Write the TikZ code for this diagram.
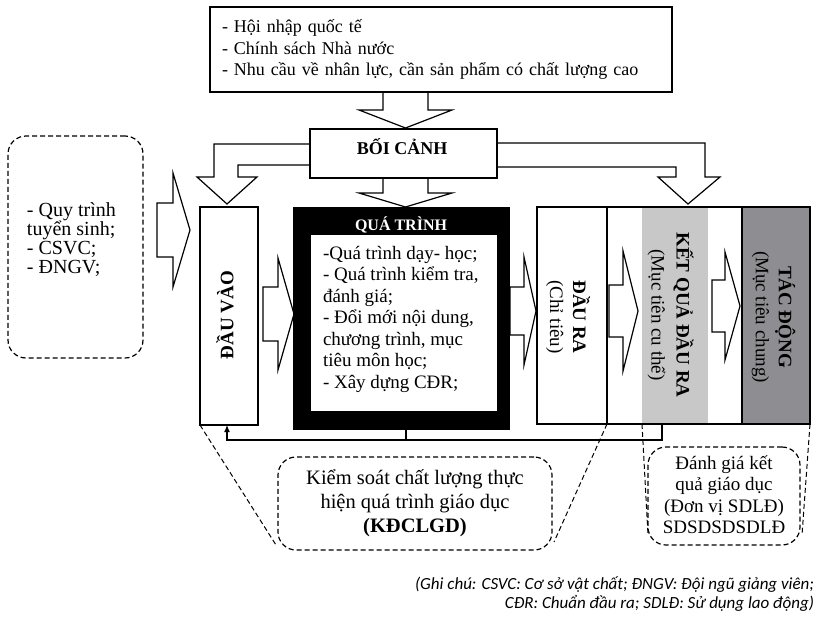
\documentclass[tikz,border=0pt]{standalone}
\usepackage{fontspec}
\setmainfont{Liberation Serif}
\newfontfamily\notefont{Carlito}
\usetikzlibrary{arrows.meta,positioning,calc}
\definecolor{lightgrey}{RGB}{200,200,200}
\definecolor{darkgrey}{RGB}{142,142,146}
\tikzset{%
	plainbox/.style = {
		rectangle, draw=black, line width=1.2pt
	},
	dashbox/.style = {
		rectangle, draw=black, line width=1.2pt,
		rounded corners=18pt, dash pattern=on 5pt off 3pt
	},
	fatarrow/.style = {
		draw=black, fill=white, line width=1.2pt, line join=miter
	},
	dashline/.style = {
		draw=black, line width=1pt, dash pattern=on 5pt off 3pt
	},
	notetext/.style = {
		anchor=base east, font=\notefont\itshape\fontsize{17}{20}\selectfont
	}
}
% hollow block arrows: start x, centre y, shaft length, shaft half width, head length, head half width
\newcommand{\fatright}[6]{%
	\draw[fatarrow] (#1,#2-#4) -- (#1+#3,#2-#4) -- (#1+#3,#2-#6) -- (#1+#3+#5,#2)
		-- (#1+#3,#2+#6) -- (#1+#3,#2+#4) -- (#1,#2+#4) -- cycle;}
\newcommand{\fatdown}[6]{%
	\draw[fatarrow] (#1-#4,#2) -- (#1-#4,#2+#3) -- (#1-#6,#2+#3) -- (#1,#2+#3+#5)
		-- (#1+#6,#2+#3) -- (#1+#4,#2+#3) -- (#1+#4,#2) -- cycle;}

\begin{document}
\begin{tikzpicture}[x=1pt, y=-1pt, every node/.style={inner sep=0pt, outer sep=0pt}]
    \useasboundingbox (0,0) rectangle (816,618);

    % Block arrows (drawn first, boxes go over them)
    \fatdown{405.5}{92}{18}{22.5}{18}{46.5}
    \fatdown{405.5}{178}{15}{22.5}{14}{46.5}
    \draw[fatarrow] (310,144) -- (214,144) -- (214,177) -- (197,177) -- (227,204) -- (257,177) -- (238,177) -- (238,165) -- (310,165);
    \draw[fatarrow] (497,143) -- (705,143) -- (705,177) -- (720,177) -- (688,204) -- (658,177) -- (676,177) -- (676,167) -- (497,167);
    \fatright{157}{230}{16}{27}{17}{57}
    \fatright{263}{314}{15}{27}{16}{56}
    \fatright{510}{311}{14}{24}{12}{54}

    % Specification of nodes (position, etc.)
    \node (context)    [plainbox, minimum width=462pt, minimum height=85pt, text width=438pt, align=left,
                        font=\fontsize{18}{21.5}\selectfont] at (441,49.5)
                       {- Hội nhập quốc tế\\- Chính sách Nhà nước\\- Nhu cầu về nhân lực, cần sản phẩm có chất lượng cao};
    \node (boicanh)    [plainbox, fill=white, minimum width=187pt, minimum height=49pt] at (403.5,153.5) {};
    \node (boicanhtxt) [font=\bfseries\fontsize{18}{20}\selectfont] at (402,147) {BỐI CẢNH};

    \node (inputs)     [dashbox, minimum width=135pt, minimum height=222pt] at (75.5,247) {};
    \node (inputstxt)  [anchor=west, align=left, font=\fontsize{20}{19}\selectfont] at (27,240)
                       {- Quy trình\\tuyển sinh;\\- CSVC;\\- ĐNGV;};

    \node (dauvao)     [plainbox, minimum width=58pt, minimum height=218pt] at (229,316) {};
    \node (dauvaotxt)  [rotate=90, font=\bfseries\fontsize{19}{21}\selectfont] at (225,315) {ĐẦU VÀO};

    \node (quatrinh)   [rectangle, fill=black, minimum width=217pt, minimum height=223pt] at (401.5,318.5) {};
    \node (qtinner)    [rectangle, fill=white, minimum width=186pt, minimum height=176pt] at (404,323) {};
    \node (qttitle)    [text=white, font=\bfseries\fontsize{16}{18}\selectfont] at (401,225) {QUÁ TRÌNH};
    \node (qttext)     [anchor=west, align=left, font=\fontsize{19}{21.5}\selectfont] at (323,319)
                       {-Quá trình dạy- học;\\- Quá trình kiểm tra,\\đánh giá;\\- Đổi mới nội dung,\\chương trình, mục\\tiêu môn học;\\- Xây dựng CĐR;};

    \node (daura)      [plainbox, minimum width=70pt, minimum height=217pt] at (572,315.5) {};
    \node (ketqua)     [rectangle, fill=lightgrey, minimum width=66pt, minimum height=217pt] at (675,315.5) {};
    \node (tacdong)    [plainbox, fill=darkgrey, minimum width=68pt, minimum height=217pt] at (776,315.5) {};
    \draw[line width=1.2pt] (daura.north west) rectangle (tacdong.south east);
    \node (dauratxt)   [rotate=-90, align=center, font=\fontsize{19}{23}\selectfont] at (568,317)
                       {\textbf{ĐẦU RA}\\(Chỉ tiêu)};
    \node (ketquatxt)  [rotate=-90, align=center, font=\fontsize{19}{25}\selectfont] at (670.5,315)
                       {\textbf{KẾT QUẢ ĐẦU RA}\\(Mục tiên cu thể)};
    \node (tacdongtxt) [rotate=-90, align=center, font=\fontsize{19}{23}\selectfont] at (773.5,317)
                       {\textbf{TÁC ĐỘNG}\\(Mục tiêu chung)};
    \fatright{609}{311}{14}{26}{15}{60}
    \fatright{712}{306}{13}{26}{15}{54}

    \node (kiemsoat)   [dashbox, minimum width=274pt, minimum height=93pt, align=center,
                        font=\fontsize{20.5}{24}\selectfont] at (415,503.5)
                       {Kiểm soát chất lượng thực\\hiện quá trình giáo dục\\\textbf{(KĐCLGD)}};
    \node (danhgia)    [dashbox, minimum width=152pt, minimum height=98pt, align=center,
                        font=\fontsize{19}{21.5}\selectfont] at (724,496)
                       {\raisebox{3pt}{\shortstack{Đánh giá kết\\[1.5pt]quả giáo dục\\[1.5pt](Đơn vị SDLĐ)\\[1.5pt]SDSDSDSDLĐ}}};

    % note
    \node (note1)      [notetext] at (814,589) {(Ghi chú: CSVC: Cơ sở vật chất; ĐNGV: Đội ngũ giảng viên;};
    \node (note2)      [notetext] at (814,608) {CĐR: Chuẩn đầu ra; SDLĐ: Sử dụng lao động)};

    % feedback line
    \coordinate (fbmid) at (406,440);
    \draw[line width=1.2pt, -{Latex[length=7pt,width=6pt]}] ([xshift=4.5pt]quatrinh.south) -- (fbmid) -| ([xshift=-2pt]dauvao.south);
    \draw[line width=1.2pt] ([xshift=20pt]ketqua.south west) |- (fbmid);

    % dashed links to the check boxes
    \coordinate (ksleft)  at (276,545);
    \coordinate (ksright) at (554,542);
    \coordinate (dgleft)  at (648,535);
    \coordinate (dgright) at (802,535);
    \draw[dashline] (dauvao.south west) -- (ksleft);
    \draw[dashline] (daura.south east) -- (ksright);
    \draw[dashline] (ketqua.south west) -- (dgleft);
    \draw[dashline] (tacdong.south east) -- (dgright);

\end{tikzpicture}
\end{document}
